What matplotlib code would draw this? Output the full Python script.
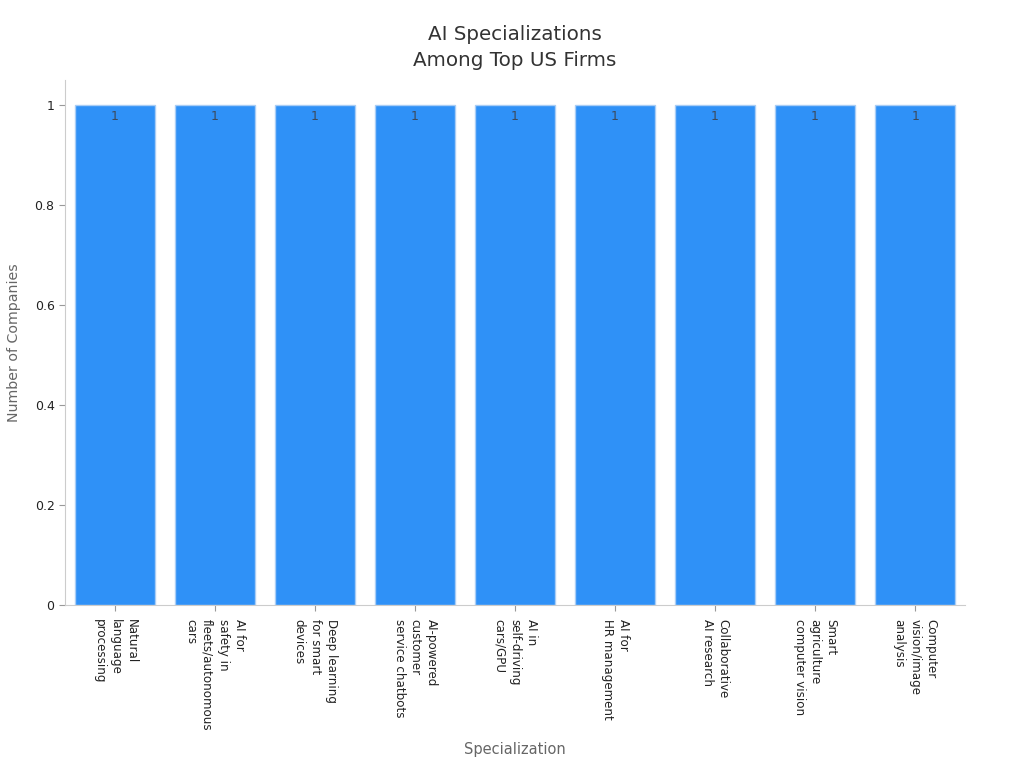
import matplotlib
matplotlib.use('agg')
import matplotlib.pyplot as plt

# Specializations and company counts
specializations = [
	"Natural\nlanguage\nprocessing",
	"AI for\nsafety in\nfleets/autonomous\ncars",
	"Deep learning\nfor smart\ndevices",
	"AI-powered\ncustomer\nservice chatbots",
	"AI in\nself-driving\ncars/GPU",
	"AI for\nHR management",
	"Collaborative\nAI research",
	"Smart\nagriculture\ncomputer vision",
	"Computer\nvision/image\nanalysis",
]
company_counts = [1, 1, 1, 1, 1, 1, 1, 1, 1]


def main():
	plt.rcParams['font.family'] = ['DejaVu Sans']

	fig = plt.figure(figsize=(10.24, 7.68), dpi=100)
	ax = fig.add_axes([0.0635, 0.212, 0.879, 0.684])

	x = list(range(len(specializations)))
	bars = ax.bar(x, company_counts, width=0.8, color='#2f91f7', edgecolor='#a9cdf5', linewidth=1)

	for b, v in zip(bars, company_counts):
		ax.text(b.get_x() + b.get_width() / 2, v - 0.01, str(v), ha='center', va='top',
				fontsize=9, color='#3c4a5c')

	ax.set_xlim(-0.5, len(specializations) - 0.5)
	ax.set_ylim(0, 1.05)
	ax.set_yticks([0, 0.2, 0.4, 0.6, 0.8, 1])
	ax.set_yticklabels(['0', '0.2', '0.4', '0.6', '0.8', '1'])
	ax.set_xticks(x)
	ax.set_xticklabels(specializations, rotation=270, ha='center', va='top',
					   multialignment='left', fontsize=8.6, color='#222222', linespacing=1.3)

	ax.tick_params(axis='y', labelsize=9, colors='#222222', length=4, color='#999999')
	ax.tick_params(axis='x', length=4, color='#999999', pad=6)

	for side in ['top', 'right']:
		ax.spines[side].set_visible(False)
	for side in ['left', 'bottom']:
		ax.spines[side].set_color('#cccccc')

	ax.set_ylabel('Number of Companies', fontsize=10.2, color='#666666', labelpad=10)
	ax.set_xlabel('Specialization', fontsize=10.5, color='#666666', labelpad=8)
	ax.set_title('AI Specializations\nAmong Top US Firms', fontsize=14.3, color='#333333',
				 pad=10, linespacing=1.45)

	plt.savefig('out.png', dpi=100)


if __name__ == "__main__":
	main()
